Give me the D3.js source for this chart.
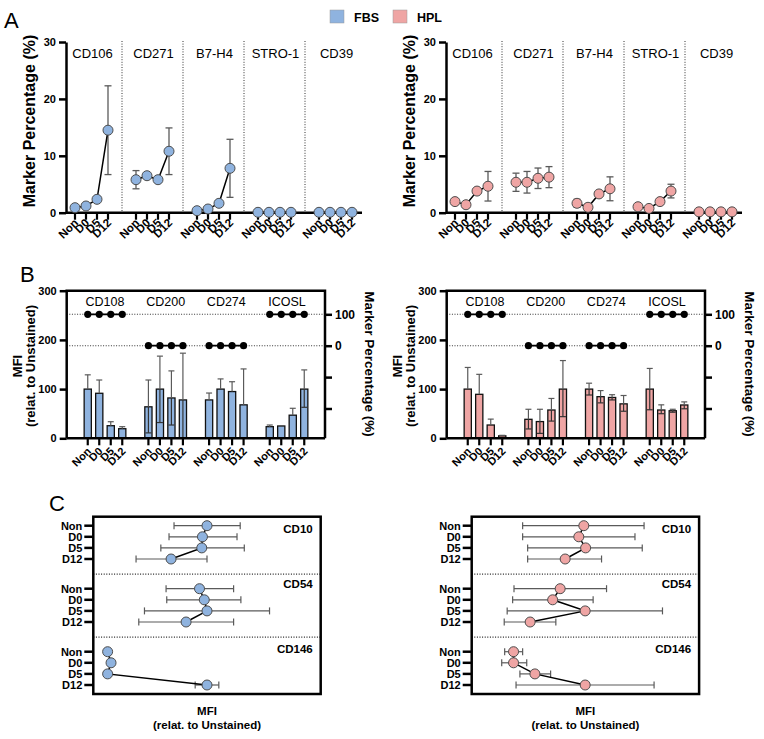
<!DOCTYPE html>
<html><head><meta charset="utf-8">
<script src="https://cdn.jsdelivr.net/npm/d3@7"></script>
<style>body{margin:0;background:#fff}svg{display:block}text{font-family:"Liberation Sans",Arial,sans-serif}</style>
</head><body>
<script>
// ---------- DATA ----------
const days = ["Non","D0","D5","D12"];
const groupsA = ["CD106","CD271","B7-H4","STRO-1","CD39"];
const ticksA = [0,10,20,30];
const fbsA = [[0.88,1.18,2.35,14.5],[5.8,6.5,5.8,10.8],[0.35,0.65,1.65,7.8],[0.07,0.07,0.07,0.07],[0.07,0.07,0.07,0.07]];
const fbsA_sd = [[0,0,0,7.8],[1.6,0.3,0.3,4.1],[0,0,0,5.1],[0,0,0,0],[0,0,0,0]];
const hplA = [[1.95,1.4,3.8,4.65],[5.35,5.35,6.05,6.25],[1.65,0.95,3.3,4.2],[1.05,0.75,1.95,3.8],[0.15,0.15,0.15,0.15]];
const hplA_sd = [[0.2,0.2,0.4,2.6],[1.6,1.9,1.8,1.85],[0.7,0.6,0.3,2.1],[0.2,0.2,0.3,1.2],[0,0,0,0]];

const groupsB = ["CD108","CD200","CD274","ICOSL"];
const ticksB = [0,100,200,300];
const pctTicksB = [100,0,-100,-200];
const fbsMFI    = [[100,91.5,25.6,19.5],[64,100,82,78],[78,100,95,68],[23.6,25,47,100]];
const fbsMFI_hi = [[129,118.5,33.7,23.6],[118.5,167,137,173],[92,120.7,115,141],[27,25.5,61,139]];
const fbsMFI_lo = [[100,91.5,25.6,19.5],[11,32,27,0],[78,100,95,68],[23.6,25,47,63]];
const fbsPct    = [[100,100,100,100],[0,0,0,0],[0,0,0,0],[100,100,100,100]];
const hplMFI    = [[100,89.4,27,5],[38.6,34,57.5,100],[100,84.6,83,70],[100,57.5,56,67.7]];
const hplMFI_hi = [[144,130,39,6],[59,59,81,158],[112,97,88.6,87],[142,68,59,74]];
const hplMFI_lo = [[100,89.4,27,5],[19,10,35,44],[88,72,78,55],[58,50,53,60]];
const hplPct    = [[100,100,100,100],[0,0,0,0],[0,0,0,0],[100,100,100,100]];

const groupsC = ["CD10","CD54","CD146"];
const fbsC    = [[50,48,47.7,34.2],[46.7,48.8,50,40.8],[6.3,7.8,6.3,50]];
const fbsC_lo = [[35.5,33.3,29.7,18.8],[32,32.3,22.5,20],[6.3,7.8,6.3,44.8]];
const fbsC_hi = [[64.6,63.2,66.4,50],[61.7,64.9,77.5,61.7],[6.3,7.8,6.3,55.2]];
const hplC    = [[49.3,47.1,50.1,41.1],[38.9,35.6,49.9,25.7],[18.4,18.4,27.8,49.9]];
const hplC_lo = [[22.4,22.4,24.6,24.6],[18.6,18,15.6,14.3],[14.5,13.2,21.2,19.5]];
const hplC_hi = [[75.8,71.8,75,57.1],[59.3,53.4,83.9,37],[22.4,24.2,34.7,80.2]];

const legendLabels = ["FBS","HPL"];
const colors = {FBS:"#8FB3DF", HPL:"#EFA5A4"};

// ---------- DRAW ----------
const W=764,H=739;
const svg=d3.select("body").append("svg").attr("width",W).attr("height",H);
const ERR="#5a5a5a", MSTROKE="#4d4d4d";

function letter(t,x,y){svg.append("text").attr("x",x).attr("y",y).attr("font-family","Lato,'Open Sans',sans-serif").attr("font-size",22).text(t);}
letter("A",4,28); letter("B",20,282); letter("C",49,511);

// legend
legendLabels.forEach((l,i)=>{
  const x=[330,393][i];
  svg.append("rect").attr("x",x).attr("y",10).attr("width",14).attr("height",13).attr("fill",colors[l]).attr("stroke","#9a9a9a").attr("stroke-width",0.5);
  svg.append("text").attr("x",x+24).attr("y",22).attr("font-weight","bold").attr("font-size",12.5).text(l);
});

function rotLabels(g, xs, y, fs){
  xs.forEach(d=>{
    g.append("text").attr("transform",`translate(${d.x+4},${y}) rotate(-45)`).attr("text-anchor","end")
     .attr("font-weight","bold").attr("font-size",fs).text(d.t);
  });
}

// ---- Panel A ----
function panelA(ox, means, sds, color){
  const g=svg.append("g");
  const y=d3.scaleLinear().domain([0,30]).range([212.7,42]);
  const gx=d3.scalePoint().domain(groupsA).range([ox+91.5,ox+335.5]);
  const dx=d3.scalePoint().domain(days).range([-16.5,16.5]);
  const ax=g.append("g").attr("transform",`translate(${ox+66},0)`).call(d3.axisLeft(y).tickValues(ticksA).tickSize(7).tickSizeOuter(0));
  ax.select(".domain").attr("stroke-width",2.5);
  ax.selectAll(".tick line").attr("stroke-width",2.5);
  ax.selectAll(".tick text").attr("font-weight","bold").attr("font-size",11).attr("font-family","'Liberation Sans',Arial");
  g.append("line").attr("x1",ox+66).attr("x2",ox+362).attr("y1",y(0)).attr("y2",y(0)).attr("stroke","#000").attr("stroke-width",2.5);
  groupsA.slice(0,-1).forEach(k=>{
    const sx=gx(k)+gx.step()/2;
    g.append("line").attr("x1",sx).attr("x2",sx).attr("y1",41).attr("y2",y(0)).attr("stroke","#333").attr("stroke-width",1).attr("stroke-dasharray","1,1.6");
  });
  const labs=[];
  groupsA.forEach((k,gi)=>{
    g.append("text").attr("x",gx(k)+1).attr("y",58).attr("text-anchor","middle").attr("font-size",13).text(k);
    const pts=days.map((d,j)=>({x:gx(k)+dx(d),v:means[gi][j],s:sds[gi][j],t:d}));
    pts.forEach(p=>{
      g.append("line").attr("x1",p.x).attr("x2",p.x).attr("y1",y(0)).attr("y2",y(0)+7).attr("stroke","#000").attr("stroke-width",2.2);
      labs.push({x:p.x,t:p.t});
    });
    pts.filter(p=>p.s>0).forEach(p=>{
      const y1=y(p.v+p.s), y2=y(Math.max(0,p.v-p.s));
      g.append("line").attr("x1",p.x).attr("x2",p.x).attr("y1",y1).attr("y2",y2).attr("stroke",ERR).attr("stroke-width",1.3);
      [y1,y2].forEach(yy=>g.append("line").attr("x1",p.x-3.5).attr("x2",p.x+3.5).attr("y1",yy).attr("y2",yy).attr("stroke",ERR).attr("stroke-width",1.3));
    });
    g.append("path").attr("d",d3.line().x(p=>p.x).y(p=>y(p.v))(pts)).attr("fill","none").attr("stroke","#000").attr("stroke-width",1.5);
    pts.forEach(p=>g.append("circle").attr("cx",p.x).attr("cy",y(p.v)).attr("r",5).attr("fill",color).attr("stroke",MSTROKE).attr("stroke-width",1));
  });
  rotLabels(g,labs,223.5,11.5);
  g.append("text").attr("transform",`translate(${ox+35},121) rotate(-90)`).attr("text-anchor","middle").attr("font-weight","bold").attr("font-size",16).text("Marker Percentage (%)");
}
panelA(0,fbsA,fbsA_sd,colors.FBS);
panelA(380,hplA,hplA_sd,colors.HPL);

// ---- Panel B ----
function panelB(ox, mfi, hi, lo, pct, color){
  const g=svg.append("g");
  const y=d3.scaleLinear().domain([0,300]).range([438.3,290.7]);
  const yp=d3.scaleLinear().domain([0,100]).range([345.7,314.3]);
  const L=ox+66.7, R=ox+325;
  const gx=d3.scalePoint().domain(groupsB).range([ox+105,ox+287]);
  const dx=d3.scalePoint().domain(days).range([-17.25,17.25]);
  [100,0].forEach(v=>g.append("line").attr("x1",L).attr("x2",R).attr("y1",yp(v)).attr("y2",yp(v)).attr("stroke","#333").attr("stroke-width",1.1).attr("stroke-dasharray","1,1.6"));
  const labs=[];
  groupsB.forEach((k,gi)=>{
    g.append("text").attr("x",gx(k)).attr("y",306).attr("text-anchor","middle").attr("font-size",12.5).text(k);
    const pts=days.map((d,j)=>({x:gx(k)+dx(d),v:mfi[gi][j],h:hi[gi][j],l:lo[gi][j],p:pct[gi][j],t:d}));
    pts.forEach(p=>{
      g.append("rect").attr("x",p.x-3.6).attr("width",7.2).attr("y",y(p.v)).attr("height",y(0)-y(p.v)).attr("fill",color).attr("stroke","#111").attr("stroke-width",1.3);
      g.append("line").attr("x1",p.x).attr("x2",p.x).attr("y1",y(p.h)).attr("y2",y(p.v)).attr("stroke",ERR).attr("stroke-width",1.2);
      g.append("line").attr("x1",p.x-3).attr("x2",p.x+3).attr("y1",y(p.h)).attr("y2",y(p.h)).attr("stroke",ERR).attr("stroke-width",1.2);
      if(p.l<p.v){
        g.append("line").attr("x1",p.x).attr("x2",p.x).attr("y1",y(p.v)).attr("y2",y(p.l)).attr("stroke","#333").attr("stroke-width",1.2);
        g.append("line").attr("x1",p.x-3).attr("x2",p.x+3).attr("y1",y(p.l)).attr("y2",y(p.l)).attr("stroke","#333").attr("stroke-width",1.2);
      }
      g.append("line").attr("x1",p.x).attr("x2",p.x).attr("y1",y(0)).attr("y2",y(0)+7).attr("stroke","#000").attr("stroke-width",2.2);
      labs.push({x:p.x,t:p.t});
    });
    g.append("path").attr("d",d3.line().x(p=>p.x).y(p=>yp(p.p))(pts)).attr("fill","none").attr("stroke","#000").attr("stroke-width",1.8);
    pts.forEach(p=>g.append("circle").attr("cx",p.x).attr("cy",yp(p.p)).attr("r",3.6).attr("fill","#000"));
  });
  g.append("path").attr("d",`M${L},${y(0)}V${y(300)}H${R}V${y(0)}`).attr("fill","none").attr("stroke","#000").attr("stroke-width",2.5);
  g.append("line").attr("x1",L).attr("x2",R).attr("y1",y(0)).attr("y2",y(0)).attr("stroke","#000").attr("stroke-width",2.5);
  const ax=g.append("g").attr("transform",`translate(${L},0)`).call(d3.axisLeft(y).tickValues(ticksB).tickSize(7).tickSizeOuter(0));
  ax.select(".domain").remove();
  ax.selectAll(".tick line").attr("stroke-width",2.5);
  ax.selectAll(".tick text").attr("font-weight","bold").attr("font-size",11).attr("font-family","'Liberation Sans',Arial");
  const ar=g.append("g").attr("transform",`translate(${R},0)`).call(d3.axisRight(yp).tickValues(pctTicksB).tickSize(7).tickFormat(v=>v>=0?String(v):""));
  ar.select(".domain").remove();
  ar.selectAll(".tick line").attr("stroke-width",2.5);
  ar.selectAll(".tick text").attr("font-weight","bold").attr("font-size",12).attr("font-family","'Liberation Sans',Arial");
  rotLabels(g,labs,452,11);
  g.append("text").attr("transform",`translate(${ox+21.5},366) rotate(-90)`).attr("text-anchor","middle").attr("font-weight","bold").attr("font-size",13).text("MFI");
  g.append("text").attr("transform",`translate(${ox+35},366) rotate(-90)`).attr("text-anchor","middle").attr("font-weight","bold").attr("font-size",13).text("(relat. to Unstained)");
  g.append("text").attr("transform",`translate(${ox+365},364) rotate(90)`).attr("text-anchor","middle").attr("font-weight","bold").attr("font-size",13.5).text("Marker Percentage (%)");
}
panelB(0,fbsMFI,fbsMFI_hi,fbsMFI_lo,fbsPct,colors.FBS);
panelB(380,hplMFI,hplMFI_hi,hplMFI_lo,hplPct,colors.HPL);

// ---- Panel C ----
function panelC(L, m, lo, hi, color){
  const g=svg.append("g");
  const R=L+227.4, T=516.7, B=694;
  const x=d3.scaleLinear().domain([0,100]).range([L,R]);
  const gy=d3.scalePoint().domain(groupsC).range([525.7,651.7]);
  const dy=d3.scalePoint().domain(days).range([0,33.3]);
  const labOff=[7.5,-0.5,1];
  groupsC.forEach((k,gi)=>{
    if(gi<groupsC.length-1){
      const sy=gy(k)+gy.step()*0.77;
      g.append("line").attr("x1",L).attr("x2",R).attr("y1",sy).attr("y2",sy).attr("stroke","#222").attr("stroke-width",1.3).attr("stroke-dasharray","1,1.6");
    }
    g.append("text").attr("x",R-8).attr("y",gy(k)+labOff[gi]).attr("text-anchor","end").attr("font-weight","bold").attr("font-size",11.5).text(k);
    const pts=days.map((d,j)=>({y:gy(k)+dy(d),v:m[gi][j],l:lo[gi][j],h:hi[gi][j],t:d}));
    pts.forEach(p=>{
      g.append("line").attr("x1",L-9).attr("x2",L).attr("y1",p.y).attr("y2",p.y).attr("stroke","#000").attr("stroke-width",2.5);
      g.append("text").attr("x",L-11).attr("y",p.y).attr("dy","0.36em").attr("text-anchor","end").attr("font-weight","bold").attr("font-size",11).text(p.t);
      if(p.h>p.l){
        g.append("line").attr("x1",x(p.l)).attr("x2",x(p.h)).attr("y1",p.y).attr("y2",p.y).attr("stroke",ERR).attr("stroke-width",1.2);
        [p.l,p.h].forEach(v=>g.append("line").attr("x1",x(v)).attr("x2",x(v)).attr("y1",p.y-3.5).attr("y2",p.y+3.5).attr("stroke",ERR).attr("stroke-width",1.2));
      }
    });
    g.append("path").attr("d",d3.line().x(p=>x(p.v)).y(p=>p.y)(pts)).attr("fill","none").attr("stroke","#000").attr("stroke-width",1.5);
    pts.forEach(p=>g.append("circle").attr("cx",x(p.v)).attr("cy",p.y).attr("r",5).attr("fill",color).attr("stroke",MSTROKE).attr("stroke-width",1));
  });
  g.append("rect").attr("x",L).attr("y",T).attr("width",R-L).attr("height",B-T).attr("fill","none").attr("stroke","#000").attr("stroke-width",2.5);
  const cx=(L+R)/2;
  g.append("text").attr("x",cx).attr("y",715).attr("text-anchor","middle").attr("font-weight","bold").attr("font-size",11.5).text("MFI");
  g.append("text").attr("x",cx).attr("y",729).attr("text-anchor","middle").attr("font-weight","bold").attr("font-size",11.5).text("(relat. to Unstained)");
}
panelC(93.3,fbsC,fbsC_lo,fbsC_hi,colors.FBS);
panelC(471.7,hplC,hplC_lo,hplC_hi,colors.HPL);
</script>
</body></html>
